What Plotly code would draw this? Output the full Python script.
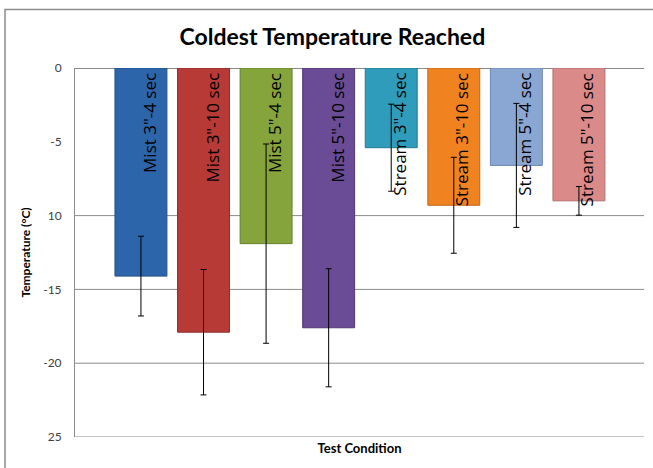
import plotly.graph_objects as go

conditions = ['Mist 3"-4 sec', 'Mist 3"-10 sec', 'Mist 5"-4 sec', 'Mist 5"-10 sec',
              'Stream 3"-4 sec', 'Stream 3"-10 sec', 'Stream 5"-4 sec', 'Stream 5"-10 sec']
coldest = [-14.1, -17.9, -11.9, -17.6, -5.4, -9.3, -6.6, -9.0]
err = [2.7, 4.25, 6.75, 4.0, 2.95, 3.25, 4.2, 0.97]
colors = ["#2d65aa", "#b73a36", "#86a43c", "#6a4b95", "#2e9cba", "#f0821f", "#8aa6d2", "#d98a89"]
edge_colors = ["#23508a", "#8e2c2a", "#66802c", "#4f3872", "#237a92", "#c0651a", "#6c87b3", "#b06e6e"]

tick_vals = [0, -5, -10, -15, -20, -25]
tick_text = ["0", "-5", "10", "-15", "-20", "25"]
grid_vals = [-10, -15, -20, -25]

PW, PH = 569, 369  # plot area size in px

x_pos = list(range(len(conditions)))

fig = go.Figure()
fig.add_trace(go.Bar(
    x=x_pos,
    y=coldest,
    width=0.83,
    marker=dict(color=colors, line=dict(color=edge_colors, width=1)),
    error_y=dict(type="data", array=err, visible=True, color="black", thickness=1, width=3),
    hoverinfo="skip",
))

# rotated data labels (category names) hanging from the zero line
for xi, name in zip(x_pos, conditions):
    fig.add_annotation(x=xi, y=0, xref="x", yref="y", text=name, showarrow=False,
                       textangle=-90, xanchor="center", yanchor="top",
                       xshift=8, yshift=-3,
                       font=dict(family="Open Sans, sans-serif", size=17, color="black"))

for g in grid_vals:
    fig.add_shape(type="line", xref="paper", x0=0, x1=1, yref="y", y0=g, y1=g,
                  line=dict(color="#8a8a8a", width=1), layer="below")

# outer chart frame (left and top edges visible)
fig.add_shape(type="rect", xref="paper", yref="paper",
              x0=-70/PW, x1=1 + 30/PW, y0=-60/PH, y1=1 + 58.5/PH,
              line=dict(color="#8c8c8c", width=1.5), fillcolor="rgba(0,0,0,0)", layer="below")

fig.update_layout(
    width=653, height=468,
    margin=dict(l=75, r=9, t=68, b=31),
    plot_bgcolor="white", paper_bgcolor="white",
    showlegend=False,
    title=dict(text="<b>Coldest Temperature Reached</b>", x=0.509, xanchor="center",
               y=1 - 37/468, yanchor="middle",
               font=dict(family="Lato, sans-serif", size=23, color="black")),
    xaxis=dict(range=[-1.054, 8.04], showticklabels=False, showgrid=False, zeroline=False,
               showline=False, ticks="",
               title=dict(text="<b>Test Condition</b>", standoff=6,
                          font=dict(family="Lato, sans-serif", size=13, color="black"))),
    yaxis=dict(range=[-25, 0], tickvals=tick_vals, ticktext=tick_text, showgrid=False,
               zeroline=True, zerolinecolor="#8a8a8a", zerolinewidth=1,
               showline=True, linecolor="#8a8a8a", linewidth=1, ticks="",
               ticklabelstandoff=10,
               tickfont=dict(family="Lato, sans-serif", size=12, color="#404040"),
               title=dict(text="<b>Temperature (°C)</b>", standoff=10,
                          font=dict(family="Lato, sans-serif", size=12, color="black"))),
)

fig.write_html("out.html", config={"displayModeBar": False},
               post_script="document.body.style.margin='0';")
